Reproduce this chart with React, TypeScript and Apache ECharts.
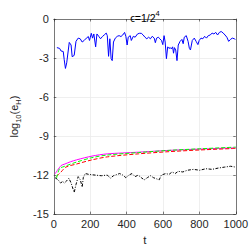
import React, { useEffect, useRef } from "react";
import * as echarts from "echarts";

const xTicks = [0, 200, 400, 600, 800, 1000];
const yTicks = [-15, -12, -9, -6, -3, 0];

const tBlue = [17,32,40,52,57,64,71,85,95,101,112,122,134,145,156,167,179,190,196,201,206,213,220,230,237,247,257,267,277,288,294,301,308,315,321,328,338,349,359,369,379,389,396,403,409,420,426,437,447,460,470,481,491,501,511,521,531,541,552,558,565,575,582,592,599,606,612,619,626,633,640,646,653,658,663,670,677,684,694,704,711,717,728,738,745,751,761,772,782,792,799,809,819,829,839,849,860,870,880,890,900,910,920,931,941,951,961,971,981,992,998];
const vBlue = [-2.2,-2.26,-2.46,-2.5,-3.1,-3.8,-3.37,-1.8,-2.0,-2.9,-2.8,-1.72,-1.47,-1.52,-1.77,-1.65,-1.47,-1.35,-1.65,-1.4,-1.1,-1.47,-1.15,-2.14,-1.15,-1.33,-1.52,-1.35,-1.23,-1.08,-1.28,-2.87,-1.52,-3.05,-3.2,-1.77,-1.47,-1.33,-1.28,-1.35,-1.23,-1.03,-1.33,-2.0,-1.4,-1.28,-1.65,-1.33,-1.4,-1.15,-1.1,-1.1,-1.23,-1.4,-1.52,-1.4,-1.52,-1.33,-1.47,-1.82,-1.47,-1.4,-1.52,-1.65,-1.97,-1.28,-1.77,-3.05,-2.14,-2.26,-2.2,-2.3,-2.14,-2.63,-2.2,-2.38,-3.2,-2.0,-1.72,-1.57,-1.9,-1.4,-1.28,-1.72,-2.26,-2.38,-1.65,-1.47,-1.72,-1.97,-1.65,-1.47,-1.52,-1.33,-1.47,-1.28,-1.23,-1.08,-1.15,-1.03,-1.23,-1.03,-0.96,-1.08,-1.23,-1.4,-1.72,-1.57,-1.47,-1.52,-1.57];

const tMagenta = [7,40,57,91,125,210,294,464,633,802,1000];
const vMagenta = [-11.9,-11.27,-11.17,-10.98,-10.83,-10.54,-10.37,-10.24,-10.1,-10.0,-9.9];

const tGreen = [15,32,57,125,210,294,464,633,802,1000];
const vGreen = [-12.24,-11.5,-11.34,-11.0,-10.66,-10.46,-10.27,-10.1,-9.98,-9.85];

const tRed = [15,40,66,125,210,294,464,633,802,1000];
const vRed = [-12.1,-11.76,-11.39,-11.15,-10.83,-10.6,-10.37,-10.2,-10.07,-9.95];

const tBlack = [7,24,37,49,58,71,83,95,112,122,134,146,156,162,173,193,227,261,294,311,328,362,379,396,413,430,447,464,481,497,514,531,548,565,579,591,616,633,650,667,684,709,734,768,802,836,870,904,937,971,1000];
const vBlack = [-12.2,-12.37,-12.61,-12.49,-12.61,-12.44,-12.24,-12.61,-13.34,-12.73,-12.12,-12.37,-12.93,-12.2,-11.88,-11.95,-12.0,-12.05,-12.0,-12.24,-12.05,-11.88,-12.0,-12.2,-12.0,-11.88,-12.12,-12.0,-12.2,-12.37,-12.2,-12.05,-12.2,-12.29,-12.37,-12.0,-11.88,-11.95,-11.76,-11.88,-11.71,-11.76,-11.63,-11.56,-11.63,-11.51,-11.56,-11.46,-11.39,-11.32,-11.39];

const zip = (t: number[], v: number[]) => t.map((x, i) => [x, v[i]]);

const FONT = "'Liberation Sans', Arial, Helvetica, sans-serif";
const TXT = "#262626";
const AX = "#262626";

export default function App() {
  const ref = useRef<HTMLDivElement>(null);
  useEffect(() => {
    const chart = echarts.init(ref.current!, null, { renderer: "svg" });
    const axisCommon = {
      type: "value" as const,
      axisLine: { show: true, onZero: false, lineStyle: { color: AX, width: 0.6 } },
      axisTick: { show: true, inside: true, length: 2.5, lineStyle: { color: AX, width: 0.6 } },
    };
    chart.setOption({
      animation: false,
      title: {
        text: "{a|ϵ=1/2}{s|4}",
        left: 140,
        textAlign: "center",
        top: 4,
        textStyle: {
          fontWeight: "normal",
          rich: {
            a: { fontFamily: FONT, fontSize: 10.5, fontWeight: "normal", color: "#000", lineHeight: 14, verticalAlign: "bottom" },
            s: { fontFamily: FONT, fontSize: 7.5, fontWeight: "normal", color: "#000", lineHeight: 14, verticalAlign: "top" },
          },
        },
      },
      grid: { left: 42, right: 12, top: 19, bottom: 28, containLabel: false },
      xAxis: [
        {
          ...axisCommon,
          min: 0,
          max: 1000,
          interval: 200,
          position: "bottom",
          axisLabel: {
            color: TXT,
            fontFamily: FONT,
            fontSize: 11,
            margin: 4,
            customValues: xTicks,
            formatter: (v: number) => String(v),
          },
          splitLine: { show: true, lineStyle: { color: "#ebebeb", width: 0.8 } },
          name: "t",
          nameLocation: "middle",
          nameGap: 19,
          nameTextStyle: { color: TXT, fontFamily: FONT, fontSize: 11.5 },
        },
        {
          ...axisCommon,
          min: 0,
          max: 1000,
          interval: 200,
          position: "top",
          axisLabel: { show: false },
          splitLine: { show: false },
        },
      ],
      yAxis: [
        {
          ...axisCommon,
          min: -15,
          max: 0,
          interval: 3,
          position: "left",
          axisLabel: {
            color: TXT,
            fontFamily: FONT,
            fontSize: 11,
            margin: 5,
            customValues: yTicks,
            formatter: (v: number) => String(v),
          },
          splitLine: { show: true, lineStyle: { color: "#ebebeb", width: 0.8 } },
          name: "{a|log}{b|10}{a|(e}{b|H}{a|)}",
          nameLocation: "middle",
          nameRotate: 90,
          nameGap: 27,
          nameTextStyle: {
            rich: {
              a: { fontFamily: FONT, fontSize: 11, color: TXT, lineHeight: 14, verticalAlign: "top" },
              b: { fontFamily: FONT, fontSize: 7.5, color: TXT, lineHeight: 14, verticalAlign: "bottom" },
            },
          },
        },
        {
          ...axisCommon,
          min: -15,
          max: 0,
          interval: 3,
          position: "right",
          axisLabel: { show: false },
          splitLine: { show: false },
        },
      ],
      series: [
        {
          type: "line",
          data: zip(tBlue, vBlue),
          showSymbol: false,
          lineStyle: { color: "#0000ff", width: 1 },
          z: 5,
        },
        {
          type: "line",
          data: zip(tMagenta, vMagenta),
          showSymbol: false,
          smooth: 0.3,
          lineStyle: { color: "#ff00ff", width: 1 },
          z: 3,
        },
        {
          type: "line",
          data: zip(tRed, vRed),
          showSymbol: false,
          smooth: 0.3,
          lineStyle: { color: "#ff0000", width: 1, type: [4, 2] },
          z: 4,
        },
        {
          type: "line",
          data: zip(tGreen, vGreen),
          showSymbol: false,
          smooth: 0.3,
          lineStyle: { color: "#00ff00", width: 1, type: [4, 2] },
          z: 4,
        },
        {
          type: "line",
          data: zip(tBlack, vBlack),
          showSymbol: false,
          lineStyle: { color: "#000000", width: 1, type: [3, 1.5, 1, 1.5] },
          z: 4,
        },
      ],
    });
    return () => chart.dispose();
  }, []);
  return (
    <div
      ref={ref}
      style={{ position: "absolute", left: 0, top: 0, width: 251, height: 251, background: "#fff" }}
    />
  );
}
